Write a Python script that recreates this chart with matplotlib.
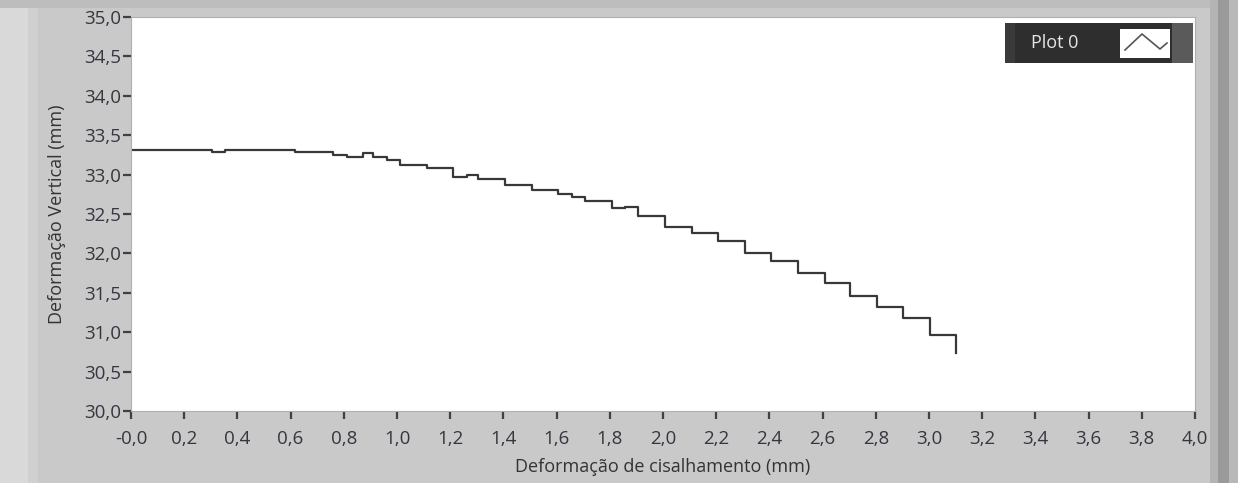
import numpy as np
import matplotlib
matplotlib.use("Agg")
import matplotlib.pyplot as plt
from matplotlib.patches import Rectangle
from matplotlib.lines import Line2D
from matplotlib.ticker import FuncFormatter

# step positions (mm) and vertical deformation levels (mm)
shear = [0.000, 0.305, 0.353, 0.617, 0.759, 0.812, 0.872, 0.910, 0.962, 1.011,
         1.113, 1.211, 1.263, 1.305, 1.406, 1.508, 1.605, 1.658, 1.707, 1.808,
         1.857, 1.906, 2.008, 2.109, 2.207, 2.308, 2.406, 2.508, 2.609, 2.703,
         2.805, 2.902, 3.004, 3.102]
vertical = [33.312, 33.287, 33.312, 33.287, 33.249, 33.223, 33.274, 33.223, 33.185, 33.122,
            33.084, 32.970, 32.995, 32.944, 32.868, 32.805, 32.754, 32.716, 32.665, 32.576,
            32.589, 32.475, 32.335, 32.259, 32.157, 32.005, 31.904, 31.751, 31.624, 31.459,
            31.320, 31.180, 30.964, 30.740]

xticks = np.round(np.arange(0, 4.01, 0.2), 1)
yticks = np.round(np.arange(30, 35.01, 0.5), 1)

W, H = 1238, 483
plt.rcParams['font.family'] = ['Open Sans', 'DejaVu Sans']

fig = plt.figure(figsize=(W / 100, H / 100), dpi=100)
fig.patch.set_facecolor('#c9c9c9')


def box(x0, y0, x1, y1, color, z=0):
    # pixel box (top-left origin) to figure fraction
    r = Rectangle((x0 / W, 1 - y1 / H), (x1 - x0) / W, (y1 - y0) / H,
                  transform=fig.transFigure, facecolor=color, edgecolor='none', zorder=z)
    fig.patches.append(r)


# panel frame shading
box(0, 0, 28, H, '#d9d9d9')
box(28, 0, 38, H, '#d0d0d0')
box(0, 0, W, 8, '#bdbdbd')
box(1210, 0, 1218, H, '#b4b4b4')
box(1218, 0, 1229, H, '#9a9a9a')
box(1229, 0, W, H, '#b8b8b8')

ax = fig.add_axes([131 / W, 1 - 411 / H, (1195 - 131) / W, (411 - 17) / H])
ax.set_facecolor('white')
ax.plot(shear, vertical, drawstyle='steps-post', color='#383838', lw=1.6)

ax.set_xlim(0, 4.0)
ax.set_ylim(30, 35)
ax.set_xticks(xticks)
ax.set_yticks(yticks)


def comma(v, pos):
    s = f"{v:.1f}".replace('.', ',')
    if pos == 0 and abs(v) < 1e-9:
        s = '-0,0'
    return s


ax.xaxis.set_major_formatter(FuncFormatter(comma))
ax.yaxis.set_major_formatter(FuncFormatter(lambda v, p: f"{v:.1f}".replace('.', ',')))
ax.tick_params(axis='both', direction='out', length=6, width=1.6, color='#404040',
               labelsize=13.5, labelcolor='#363640')
ax.tick_params(axis='x', pad=8)
ax.tick_params(axis='y', pad=1)
for s in ax.spines.values():
    s.set_color('#b0b0b0')
    s.set_linewidth(0.8)

ax.set_xlabel('Deformação de cisalhamento (mm)', fontsize=13, color='#333333', labelpad=7)
ax.set_ylabel('Deformação Vertical (mm)', fontsize=13, color='#333333', labelpad=13)

# legend in LabVIEW style
box(1005, 23, 1193, 63, '#2e2e2e', 5)
box(1005, 23, 1015, 63, '#3a3a3a', 5)
box(1172, 23, 1193, 63, '#5a5a5a', 5)
box(1120, 29, 1170, 58, 'white', 6)
fig.text(1031 / W, 1 - 43 / H, 'Plot 0', color='#e6e6e6', fontsize=13,
         va='center', ha='left', zorder=7)
zx = np.array([1125, 1142, 1160, 1167]) / W
zy = 1 - np.array([50, 34, 49, 43]) / H
fig.lines.append(Line2D(zx, zy, transform=fig.transFigure, color='#555555', lw=1.2, zorder=7))

fig.savefig('out.png', dpi=100, facecolor=fig.get_facecolor())
